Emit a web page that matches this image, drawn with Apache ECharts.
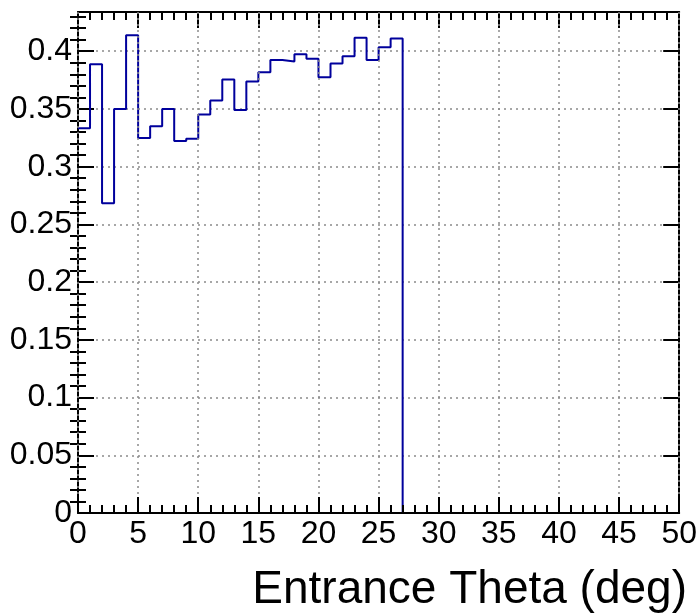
<!DOCTYPE html>
<html><head><meta charset="utf-8">
<script src="https://cdn.jsdelivr.net/npm/echarts@6/dist/echarts.min.js"></script>
<style>html,body{margin:0;padding:0;background:#fff}#c{width:700px;height:616px}</style>
</head><body><div id="c"></div>
<script>
// Histogram: 1-degree bins from 0 to 50 deg (low edges)
const binLowEdges = [0,1,2,3,4,5,6,7,8,9,10,11,12,13,14,15,16,17,18,19,20,21,22,23,24,25,26,27,28,29,30,31,32,33,34,35,36,37,38,39,40,41,42,43,44,45,46,47,48,49];
const binValues = [0.3333,0.3887,0.2683,0.3500,0.4139,0.3249,0.3350,0.3500,0.3223,0.3241,
                   0.3451,0.3573,0.3755,0.3492,0.3737,0.3818,0.3925,0.3911,0.3974,0.3934,
                   0.3775,0.3893,0.3957,0.4116,0.3925,0.4035,0.4110,0,0,0,
                   0,0,0,0,0,0,0,0,0,0,
                   0,0,0,0,0,0,0,0,0,0];
const xUpperEdge = 50;
const xTickLabels = ['0','5','10','15','20','25','30','35','40','45','50'];
const yTickValues = [0,0.05,0.1,0.15,0.2,0.25,0.3,0.35,0.4];
const yTickLabels = ['0','0.05','0.1','0.15','0.2','0.25','0.3','0.35','0.4'];
const xTitle = 'Entrance Theta (deg)';
const yMax = 0.434;

const yMinor = [];
for (let k = 1; k <= 43; k++) { if (k % 5 !== 0) yMinor.push(+(k * 0.01).toFixed(2)); }

const histData = binLowEdges.map((x, i) => [x, binValues[i]]);
histData.push([xUpperEdge, binValues[binValues.length - 1]]);

const FONT = '"Liberation Sans", Arial, sans-serif';
const black = '#000';
const gridLine = { show: true, lineStyle: { color: '#8a8a8a', width: 1.5, type: [2, 4] } };

const chart = echarts.init(document.getElementById('c'), null, { renderer: 'canvas' });
chart.setOption({
  animation: false,
  backgroundColor: '#fff',
  grid: { left: 78, right: 20, top: 12, bottom: 103, containLabel: false },
  xAxis: [
    { type: 'value', position: 'bottom', min: 0, max: 50, interval: 5, z: 3,
      axisLine: { show: true, onZero: false, lineStyle: { color: black, width: 2 } },
      axisTick: { show: true, inside: true, length: 16, lineStyle: { color: black, width: 2 } },
      minorTick: { show: true, splitNumber: 5, length: 8, lineStyle: { color: black, width: 2 } },
      axisLabel: { show: true, margin: 5, fontSize: 32, fontFamily: FONT, color: black,
        formatter: (v) => xTickLabels[Math.round(v / 5)] },
      splitLine: gridLine },
    { type: 'value', position: 'top', min: 0, max: 50, interval: 5,
      axisLine: { show: true, onZero: false, lineStyle: { color: black, width: 2 } },
      axisTick: { show: true, inside: true, length: 16, lineStyle: { color: black, width: 2 } },
      minorTick: { show: true, splitNumber: 5, length: 8, lineStyle: { color: black, width: 2 } },
      axisLabel: { show: false }, splitLine: { show: false } }
  ],
  yAxis: [
    { type: 'value', position: 'left', min: 0, max: yMax, interval: 0.05,
      axisLine: { show: true, onZero: false, lineStyle: { color: black, width: 2 } },
      axisTick: { show: true, inside: true, length: 16, customValues: yTickValues, lineStyle: { color: black, width: 2 } },
      axisLabel: { show: true, margin: 6, fontSize: 32, fontFamily: FONT, color: black,
        customValues: yTickValues,
        formatter: (v) => { const i = yTickValues.findIndex(t => Math.abs(t - v) < 1e-6); return i >= 0 ? yTickLabels[i] : ''; } },
      splitLine: gridLine },
    { type: 'value', position: 'left', min: 0, max: yMax,
      axisLine: { show: false },
      axisTick: { show: true, inside: true, length: 8, customValues: yMinor, lineStyle: { color: black, width: 2 } },
      axisLabel: { show: false }, splitLine: { show: false } },
    { type: 'value', position: 'right', min: 0, max: yMax,
      axisLine: { show: true, onZero: false, lineStyle: { color: black, width: 2 } },
      axisTick: { show: true, inside: true, length: 16, customValues: yTickValues, lineStyle: { color: black, width: 2 } },
      axisLabel: { show: false }, splitLine: { show: false } },
    { type: 'value', position: 'right', min: 0, max: yMax,
      axisLine: { show: false },
      axisTick: { show: true, inside: true, length: 8, customValues: yMinor, lineStyle: { color: black, width: 2 } },
      axisLabel: { show: false }, splitLine: { show: false } }
  ],
  series: [{
    type: 'line', step: 'end', xAxisIndex: 0, yAxisIndex: 0,
    data: histData, showSymbol: false, symbol: 'none',
    lineStyle: { color: '#00009c', width: 2 }, z: 2
  }],
  graphic: [{
    type: 'text', x: 687, y: 590,
    style: { text: xTitle, fill: black, font: '46px ' + FONT, textAlign: 'right', textVerticalAlign: 'middle' }
  }]
});
</script></body></html>
